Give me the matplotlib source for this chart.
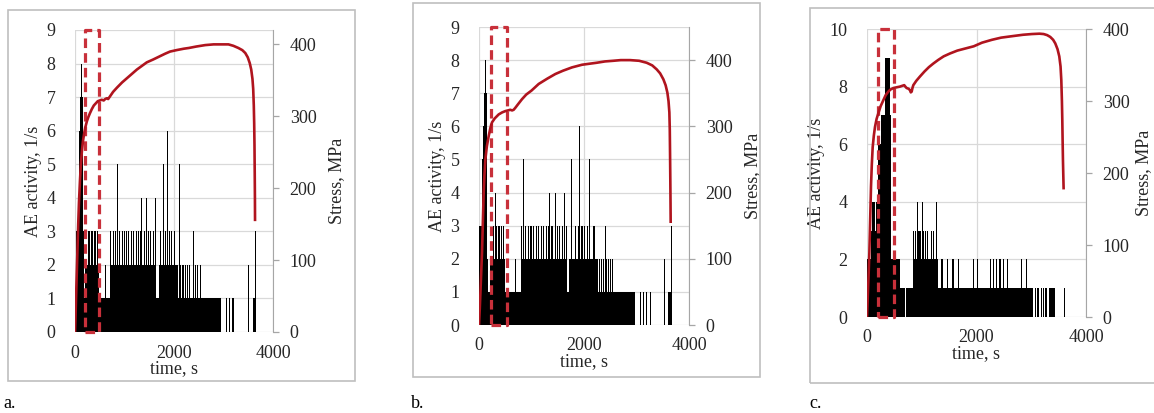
import numpy as np
import matplotlib
matplotlib.use('Agg')
import matplotlib.pyplot as plt
import matplotlib.transforms as mtransforms
from matplotlib.patches import Rectangle

plt.rcParams['font.family'] = ['Liberation Serif', 'DejaVu Serif']

# AE activity (1/s), one value per 20 s bin starting at t = 0
BIN = 20
AE_A = [1, 3, 3, 3, 6, 7, 8, 7, 3, 1, 2, 2, 2, 3, 3, 2, 3, 3, 2, 3,
        3, 2, 3, 2, 1, 1, 1, 1, 1, 1, 2, 1, 1, 1, 1, 3, 2, 2, 3, 2,
        3, 2, 5, 2, 3, 2, 2, 3, 2, 3, 2, 2, 3, 2, 3, 2, 2, 3, 2, 3,
        2, 2, 3, 2, 3, 2, 3, 4, 2, 2, 3, 2, 4, 2, 3, 2, 3, 2, 2, 3,
        2, 4, 1, 1, 1, 2, 3, 2, 2, 5, 2, 3, 2, 6, 2, 3, 2, 3, 2, 2,
        3, 2, 2, 2, 1, 5, 2, 1, 2, 2, 1, 2, 1, 2, 1, 2, 1, 1, 1, 3,
        1, 2, 1, 2, 1, 1, 2, 1, 1, 1, 1, 1, 1, 1, 1, 1, 1, 1, 1, 1,
        1, 1, 1, 1, 1, 1, 1, 0, 0, 0, 0, 0, 0, 1, 0, 0, 1, 0, 0, 1,
        1, 0, 0, 0, 0, 0, 0, 0, 0, 0, 0, 0, 0, 0, 0, 2, 0, 0, 0, 0,
        1, 1, 3]
AE_B = [3, 3, 3, 5, 6, 7, 8, 7, 2, 1, 2, 2, 2, 3, 2, 4, 3, 2, 3, 3,
        2, 3, 2, 3, 2, 1, 1, 1, 1, 1, 1, 1, 1, 1, 2, 1, 1, 1, 1, 1,
        3, 2, 5, 2, 3, 2, 2, 3, 2, 3, 2, 3, 2, 2, 3, 2, 3, 2, 2, 3,
        2, 3, 2, 2, 3, 2, 3, 4, 2, 3, 2, 2, 4, 2, 3, 2, 3, 2, 2, 3,
        2, 4, 2, 3, 1, 1, 2, 2, 5, 2, 2, 3, 2, 2, 3, 6, 2, 3, 3, 2,
        3, 2, 2, 3, 2, 5, 2, 2, 2, 3, 2, 2, 2, 1, 2, 1, 2, 1, 2, 1,
        3, 2, 1, 2, 1, 2, 1, 2, 1, 1, 1, 1, 1, 1, 1, 1, 1, 1, 1, 1,
        1, 1, 1, 1, 1, 1, 1, 1, 1, 0, 0, 0, 0, 1, 0, 0, 1, 0, 0, 1,
        0, 0, 0, 1, 0, 0, 0, 0, 0, 0, 0, 0, 0, 0, 0, 0, 2, 0, 0, 0,
        1, 1, 1, 3]
AE_C = [2, 2, 2, 2, 3, 4, 4, 3, 4, 4, 6, 6, 6, 7, 7, 7, 9, 9, 9, 9,
        9, 7, 2, 2, 2, 2, 2, 2, 2, 2, 1, 1, 1, 1, 1, 0, 1, 1, 1, 1,
        1, 1, 3, 2, 3, 2, 4, 3, 3, 2, 4, 3, 2, 3, 2, 3, 2, 2, 3, 2,
        3, 2, 2, 4, 2, 1, 1, 1, 2, 1, 1, 1, 1, 2, 1, 1, 1, 1, 2, 1,
        1, 1, 1, 2, 1, 1, 1, 1, 1, 1, 1, 1, 1, 1, 1, 1, 1, 2, 1, 1,
        2, 1, 1, 1, 1, 1, 1, 1, 1, 1, 1, 1, 2, 1, 1, 2, 1, 1, 2, 1,
        1, 2, 1, 1, 2, 1, 1, 1, 2, 1, 1, 1, 1, 1, 1, 1, 1, 1, 1, 1,
        1, 2, 1, 1, 1, 2, 1, 1, 1, 1, 1, 1, 0, 1, 0, 1, 1, 0, 0, 1,
        0, 1, 0, 1, 0, 0, 1, 1, 1, 1, 1, 1, 0, 0, 0, 0, 0, 0, 0, 0,
        1]

# stress curves (time s, stress MPa)
STRESS_T_A = [0, 10, 20, 35, 50, 65, 80, 100, 120, 140, 160, 185, 210, 240, 270, 300, 340,
              380, 420, 460, 500, 540, 580, 610, 640, 670, 700, 730, 770, 850, 950, 1050,
              1150, 1250, 1350, 1450, 1580, 1700, 1820, 1920, 2050, 2200, 2300, 2450, 2630,
              2800, 2970, 3100, 3200, 3300, 3380, 3440, 3490, 3530, 3560, 3585, 3600, 3612,
              3620, 3626, 3631, 3635, 3637]
STRESS_A = [0, 20, 45, 80, 115, 150, 180, 210, 235, 252, 265, 276, 285, 293, 299, 304, 310,
            315, 318, 321, 322, 323, 322, 324, 325, 324, 327, 330, 334, 340, 347, 353,
            359, 365, 370, 375, 379, 383, 387, 390, 392, 394, 395, 397, 399,
            400, 400, 400, 398, 395, 392, 388, 382, 374, 365, 352, 338, 315,
            290, 260, 220, 185, 156]
STRESS_T_B = [0, 15, 30, 45, 57, 70, 89, 105, 121, 150, 184, 215, 248, 300, 375, 440, 502,
              550, 597, 630, 660, 692, 740, 819, 900, 1000, 1137, 1300, 1454, 1600, 1771,
              1962, 2100, 2241, 2400, 2559, 2700, 2877, 3050, 3194, 3300, 3385, 3450, 3512,
              3555, 3588, 3610, 3626, 3634, 3639, 3644, 3648, 3651]
STRESS_B = [0, 25, 55, 85, 109, 145, 200, 228, 250, 270, 285, 297, 306, 312, 318, 321, 323,
            324, 325, 324, 325, 328, 333, 341, 348, 354, 364, 372, 379, 384, 389,
            393, 394.5, 396, 398, 399, 400, 400, 399, 396, 392, 386, 380, 371,
            362, 351, 338, 321, 295, 260, 220, 185, 156]
STRESS_T_C = [0, 15, 30, 43, 58, 73, 88, 104, 125, 146, 175, 207, 250, 298, 340, 389, 430,
              481, 540, 602, 640, 680, 700, 724, 760, 785, 800, 816, 830, 846, 900, 967,
              1050, 1130, 1211, 1300, 1400, 1516, 1650, 1800, 1950, 2100, 2282, 2450, 2647,
              2850, 3013, 3150, 3226, 3290, 3347, 3400, 3439, 3480, 3512, 3535, 3549, 3560,
              3567, 3573, 3579, 3585, 3591]
STRESS_C = [0, 30, 60, 89, 135, 181, 212, 236, 252, 264, 275, 283, 293, 301, 308, 313, 316,
            318, 319, 320, 321, 322, 320, 318, 317, 315, 312, 313, 318, 322, 328, 334,
            341, 347, 352, 357, 362, 366, 370, 373, 376, 381, 385, 388, 390,
            392, 393, 393.5, 393, 391.5, 389, 385, 380, 372, 362, 348, 329, 300,
            274, 245, 218, 198, 179]

# time window marked with the dashed box
ZONES = [(200, 480), (230, 530), (200, 490)]

AE_MAX = [9, 9, 10]
AE_STEP = [1, 1, 2]
STRESS_MAX = [420, 450, 400]
TIME_TICKS = [0, 2000, 4000]
STRESS_TICKS = [0, 100, 200, 300, 400]
PANEL_LABELS = ['a.', 'b.', 'c.']

W, H = 1154, 413
fig = plt.figure(figsize=(W / 100, H / 100), dpi=100)


def fig_box(x0, y0, x1, y1):
    return [x0 / W, 1 - y1 / H, (x1 - x0) / W, (y1 - y0) / H]


axes_px = [(75, 30, 273, 332), (479, 27, 689, 325), (867, 29, 1086, 317)]
frame_px = [(8, 10, 355, 381), (413, 3, 760, 377), (810, 8, 1170, 383)]
label_px = [(3, 404), (411, 404), (809, 404)]
stress_pad = [8, 8, 4]

panels = [(AE_A, STRESS_T_A, STRESS_A), (AE_B, STRESS_T_B, STRESS_B),
          (AE_C, STRESS_T_C, STRESS_C)]

txt = '#262626'
grid_c = '#D9D9D9'
fs = 13

for i, (ae, st_t, st) in enumerate(panels):
    fx0, fy0, fx1, fy1 = frame_px[i]
    fig.add_artist(Rectangle((fx0 / W, 1 - fy1 / H), (fx1 - fx0) / W, (fy1 - fy0) / H,
                             transform=fig.transFigure, fill=False,
                             edgecolor='#BFBFBF', lw=1.2))
    fig.text(label_px[i][0] / W, 1 - label_px[i][1] / H, PANEL_LABELS[i],
             fontsize=fs, color='black', va='center', ha='left')

    ax = fig.add_axes(fig_box(*axes_px[i]))
    edges = np.arange(len(ae) + 1) * BIN
    ax.stairs(ae, edges, fill=True, color='black', linewidth=0)
    ax.set_xlim(0, 4000)
    ax.set_ylim(0, AE_MAX[i])
    ax.set_yticks(np.arange(0, AE_MAX[i] + 1, AE_STEP[i]))
    ax.set_xticks(TIME_TICKS)
    ax.set_axisbelow(True)
    ax.grid(True, color=grid_c, lw=0.9)
    for s in ax.spines.values():
        s.set_visible(False)
    ax.tick_params(axis='both', length=0, labelsize=fs, colors=txt)
    ax.tick_params(axis='y', pad=14)
    ax.tick_params(axis='x', pad=9)
    ax.set_xlabel('time, s', fontsize=fs, color=txt, labelpad=-1)
    ax.set_ylabel('AE activity, 1/s', fontsize=fs, color=txt, labelpad=3)

    ax2 = ax.twinx()
    ax2.plot(st_t, st, color='#B0141E', lw=1.9, solid_joinstyle='round')
    ax2.set_ylim(0, STRESS_MAX[i])
    ax2.set_yticks(STRESS_TICKS)
    for name, s in ax2.spines.items():
        s.set_visible(name == 'right')
    ax2.spines['right'].set_color('#A6A6A6')
    ax2.tick_params(axis='y', direction='out', length=4, width=0.9, color='#A6A6A6',
                    labelsize=fs, labelcolor=txt, pad=8)
    ax2.set_ylabel('Stress, MPa', fontsize=fs, color=txt, rotation=90,
                   labelpad=stress_pad[i])

    z0, z1 = ZONES[i]
    trans = mtransforms.blended_transform_factory(ax2.transData, ax2.transAxes)
    ax2.add_patch(Rectangle((z0, 0), z1 - z0, 1.0, transform=trans, fill=False,
                            edgecolor='#C8303A', lw=2.3, linestyle=(0, (3, 1.6)),
                            clip_on=False, joinstyle='round'))

fig.savefig('out.png', dpi=100)
